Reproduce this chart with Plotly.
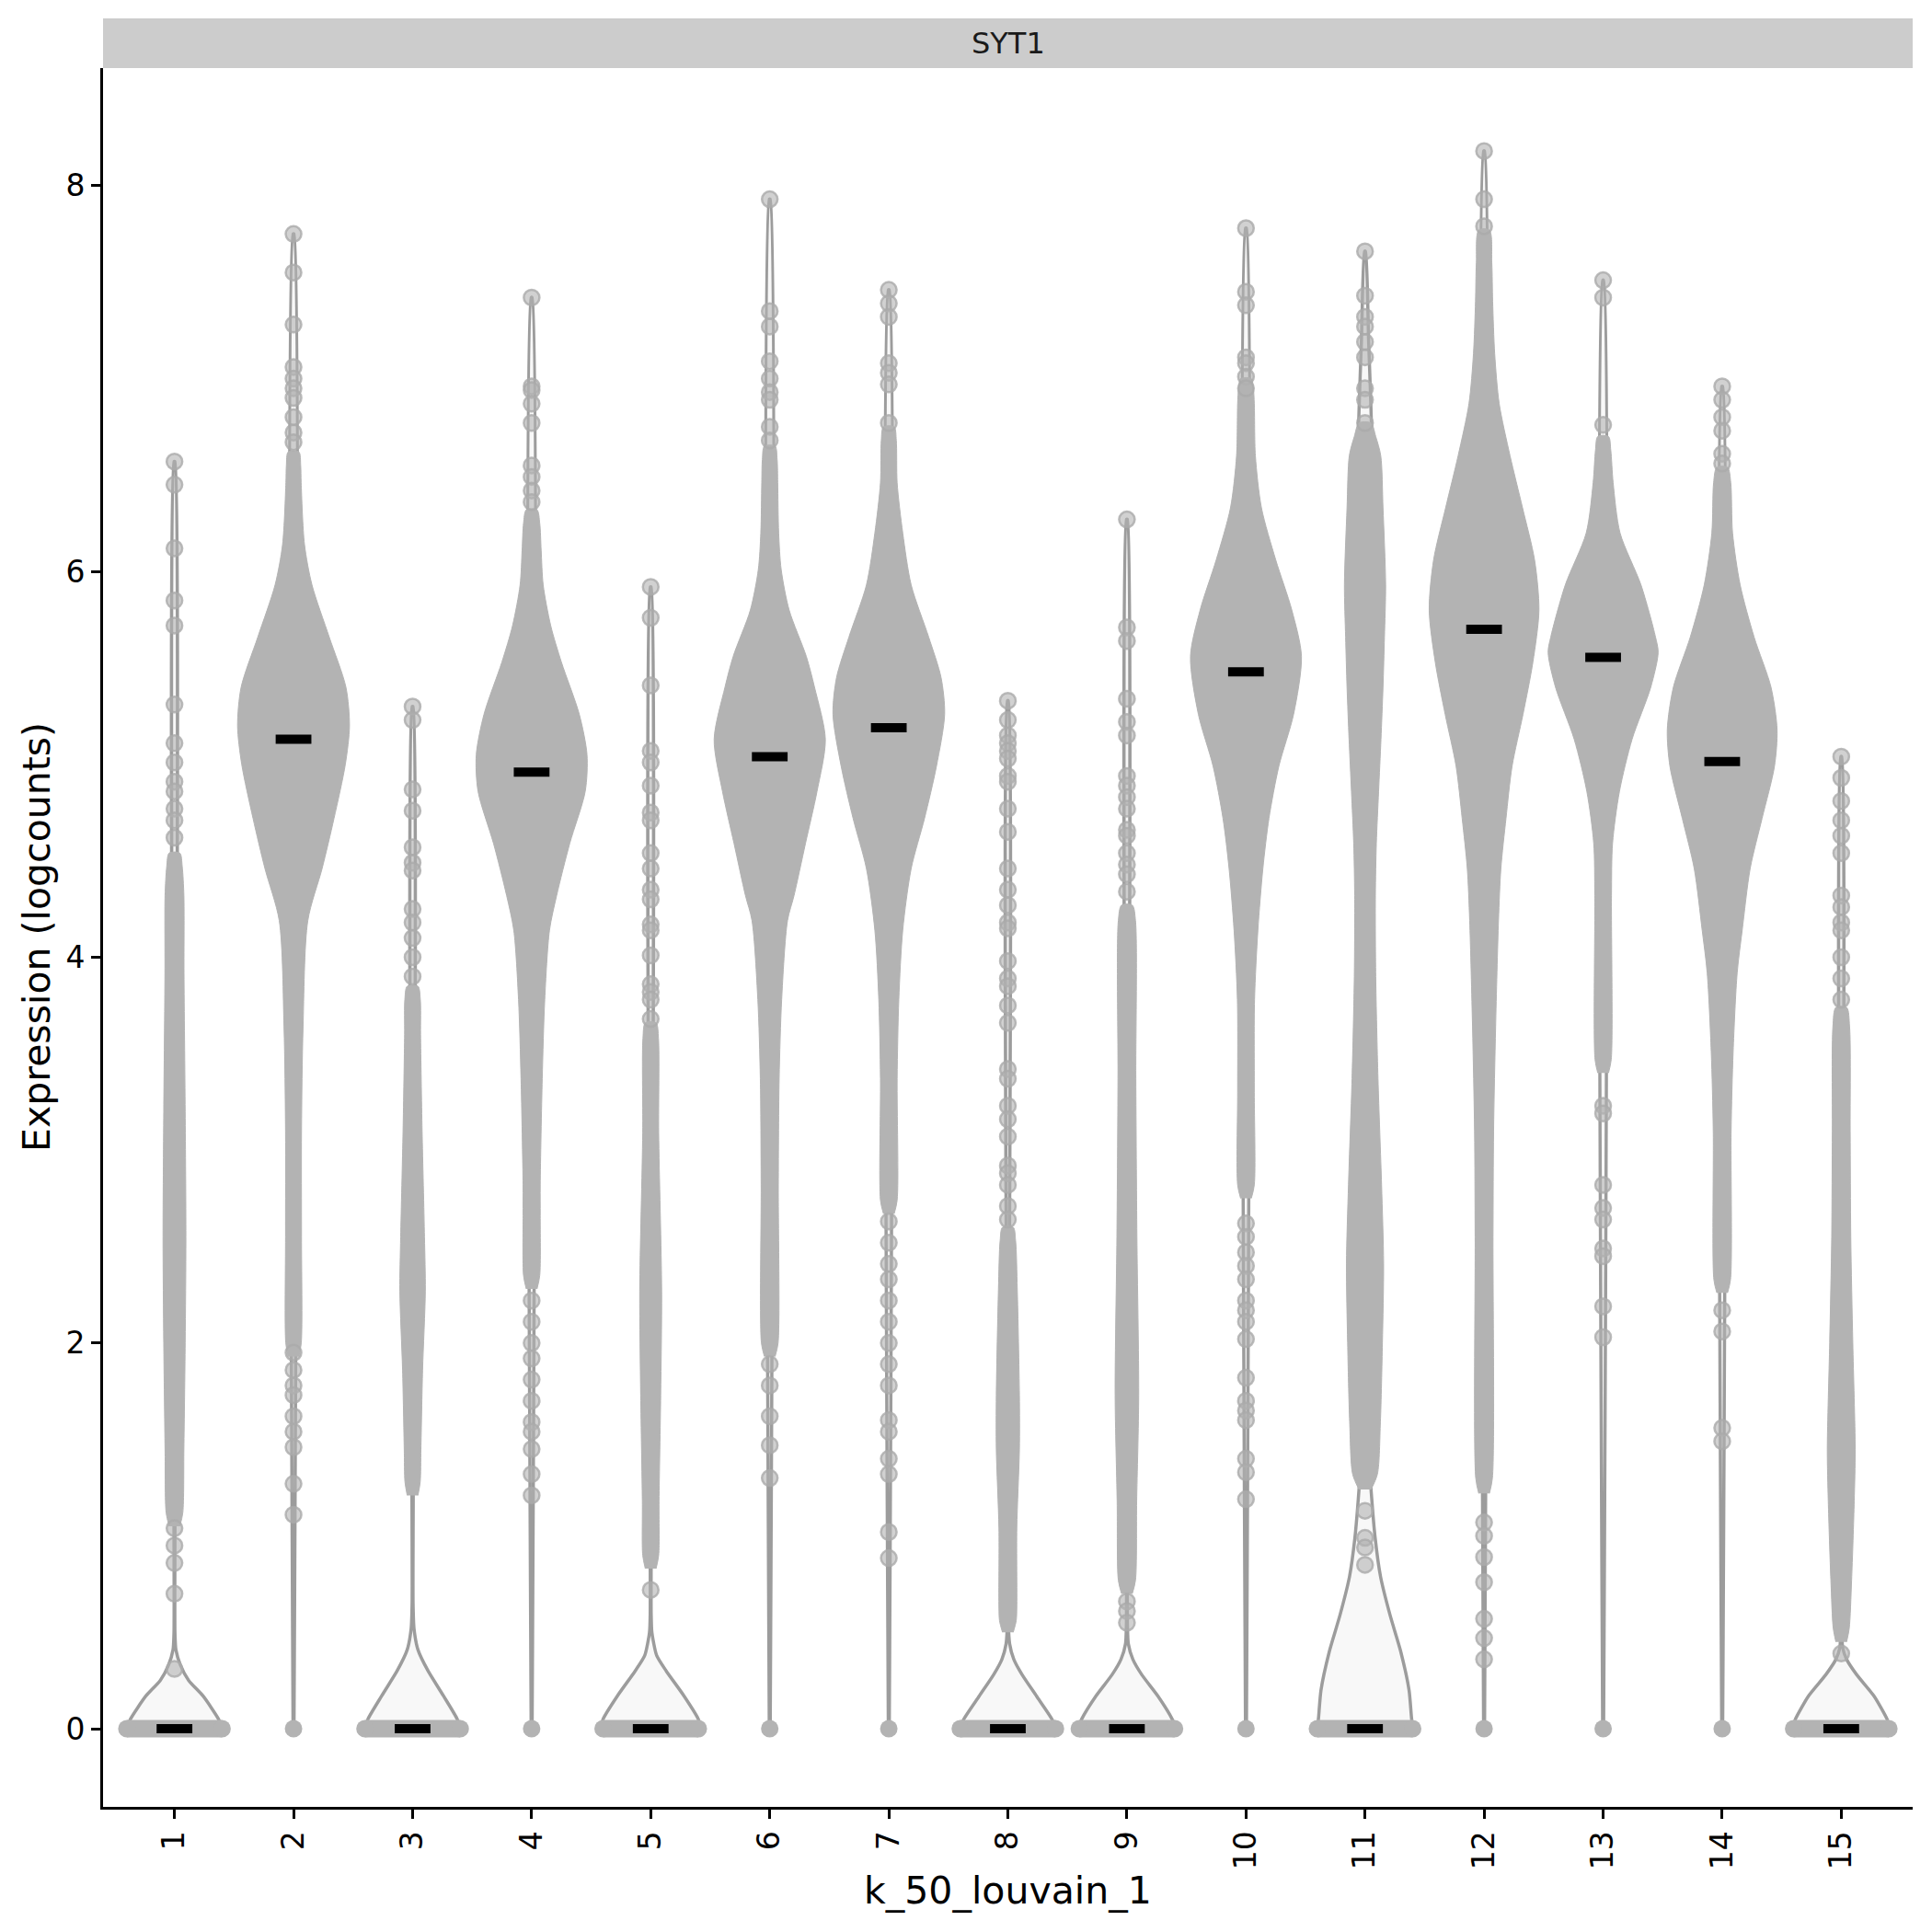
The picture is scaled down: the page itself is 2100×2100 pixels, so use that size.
import plotly.graph_objects as go

# ---------------- data ----------------
clusters = list(range(1, 16))
cluster_labels = [str(c) for c in clusters]

medians = [0, 5.13, 0, 4.96, 0, 5.04, 5.19, 0, 0, 5.48, 0, 5.70, 5.555, 5.015, 0]

# half-width (category units) of the band of zero-valued cells
zero_band_halfwidth = [0.40, 0, 0.40, 0, 0.40, 0, 0, 0.40, 0.40, 0, 0.40, 0, 0, 0, 0.40]

# violin outline profile (expression level -> half width)
violin_levels = [
    [0, 0.05, 0.17, 0.25, 0.33, 0.41, 0.50],
    [0],
    [0, 0.05, 0.17, 0.30, 0.41, 0.52, 0.65],
    [0],
    [0, 0.05, 0.17, 0.30, 0.38, 0.50, 0.60],
    [0],
    [0],
    [0, 0.05, 0.17, 0.28, 0.36, 0.44, 0.55],
    [0, 0.05, 0.17, 0.28, 0.36, 0.44, 0.55],
    [0],
    [0, 0.06, 0.20, 0.40, 0.59, 0.79, 0.99, 1.18, 1.30, 2.0, 3.0, 3.9, 5.0, 6.0, 6.73, 7.2, 7.66],
    [0],
    [0],
    [0],
    [0, 0.05, 0.17, 0.28, 0.36, 0.42, 0.52],
]
violin_halfwidth = [
    [0.40, 0.37, 0.24, 0.12, 0.05, 0.012, 0.004],
    [0.004],
    [0.40, 0.375, 0.26, 0.13, 0.045, 0.012, 0.004],
    [0.004],
    [0.42, 0.40, 0.28, 0.13, 0.05, 0.010, 0.004],
    [0.004],
    [0.004],
    [0.40, 0.37, 0.24, 0.12, 0.05, 0.015, 0.004],
    [0.41, 0.38, 0.26, 0.125, 0.05, 0.012, 0.004],
    [0.004],
    [0.40, 0.39, 0.37, 0.30, 0.21, 0.13, 0.085, 0.058, 0.045, 0.05, 0.05, 0.04, 0.05, 0.06, 0.055, 0.03, 0.004],
    [0.004],
    [0.004],
    [0.004],
    [0.41, 0.385, 0.275, 0.13, 0.045, 0.012, 0.004],
]

# dense quasirandom point cloud profile (expression level -> half width incl. marker)
cloud_levels = [
    [1.05, 1.12, 1.45, 2.0, 2.55, 3.2, 3.92, 4.32, 4.47, 4.54],
    [1.93, 2.0, 2.55, 3.1, 3.64, 4.19, 4.46, 4.72, 5.0, 5.2, 5.4, 5.66, 5.93, 6.14, 6.46, 6.55, 6.62],
    [1.21, 1.28, 1.45, 1.86, 2.27, 2.55, 3.10, 3.6, 3.78, 3.85],
    [2.28, 2.35, 2.66, 2.82, 3.37, 3.78, 4.14, 4.32, 4.59, 4.86, 5.05, 5.26, 5.53, 5.72, 5.93, 6.11, 6.25, 6.32],
    [0.83, 0.90, 1.18, 1.73, 2.27, 3.09, 3.58, 3.66],
    [1.93, 2.0, 2.82, 3.37, 3.78, 4.19, 4.32, 4.59, 4.86, 5.13, 5.40, 5.56, 5.80, 6.01, 6.20, 6.46, 6.58, 6.65],
    [2.67, 2.74, 3.37, 3.78, 4.14, 4.46, 4.72, 4.99, 5.26, 5.45, 5.66, 5.93, 6.20, 6.46, 6.68, 6.75],
    [0.50, 0.56, 0.63, 1.04, 1.45, 1.73, 2.28, 2.53, 2.60],
    [0.70, 0.77, 1.18, 1.73, 2.55, 3.37, 4.19, 4.27],
    [2.75, 2.82, 3.3, 3.78, 4.14, 4.46, 4.72, 4.99, 5.26, 5.56, 5.80, 6.06, 6.33, 6.60, 6.87, 6.95, 7.0],
    [1.24, 1.32, 1.59, 2.0, 2.41, 2.82, 3.37, 3.9, 4.32, 4.59, 4.86, 5.13, 5.40, 5.66, 5.93, 6.33, 6.6, 6.70, 6.77],
    [1.22, 1.30, 2.55, 3.10, 3.64, 4.19, 4.46, 4.72, 4.99, 5.26, 5.53, 5.80, 6.06, 6.33, 6.60, 6.87, 7.13,
     7.40, 7.60, 7.77],
    [3.40, 3.47, 4.32, 4.59, 4.86, 5.13, 5.40, 5.58, 5.66, 5.93, 6.20, 6.46, 6.63, 6.70],
    [2.26, 2.33, 3.10, 3.51, 3.92, 4.14, 4.46, 4.72, 4.99, 5.18, 5.40, 5.66, 5.93, 6.20, 6.46, 6.54],
    [0.45, 0.52, 0.77, 1.18, 1.45, 2.0, 2.55, 3.10, 3.64, 3.74],
]
cloud_halfwidth = [
    [0.045, 0.07, 0.079, 0.09, 0.096, 0.09, 0.08, 0.079, 0.065, 0.045],
    [0.045, 0.065, 0.067, 0.067, 0.08, 0.12, 0.24, 0.34, 0.435, 0.47, 0.44, 0.30, 0.155, 0.092, 0.064, 0.06, 0.045],
    [0.045, 0.064, 0.07, 0.084, 0.107, 0.10, 0.08, 0.067, 0.065, 0.045],
    [0.045, 0.068, 0.072, 0.072, 0.089, 0.11, 0.15, 0.21, 0.32, 0.45, 0.465, 0.40, 0.25, 0.16, 0.097, 0.08, 0.068, 0.045],
    [0.045, 0.067, 0.07, 0.084, 0.092, 0.067, 0.065, 0.045],
    [0.045, 0.07, 0.072, 0.079, 0.10, 0.149, 0.204, 0.30, 0.397, 0.467, 0.376, 0.307, 0.163, 0.096, 0.075, 0.067, 0.062, 0.045],
    [0.045, 0.07, 0.07, 0.084, 0.117, 0.188, 0.30, 0.40, 0.469, 0.439, 0.335, 0.188, 0.117, 0.07, 0.063, 0.045],
    [0.045, 0.07, 0.075, 0.075, 0.097, 0.097, 0.079, 0.065, 0.045],
    [0.045, 0.072, 0.082, 0.099, 0.084, 0.075, 0.072, 0.045],
    [0.045, 0.07, 0.07, 0.072, 0.10, 0.142, 0.193, 0.276, 0.40, 0.466, 0.385, 0.25, 0.13, 0.079, 0.07, 0.062, 0.045],
    [0.05, 0.104, 0.129, 0.146, 0.156, 0.139, 0.109, 0.09, 0.087, 0.095, 0.114, 0.134, 0.151, 0.163, 0.173, 0.151, 0.132, 0.09, 0.05],
    [0.045, 0.07, 0.075, 0.08, 0.097, 0.121, 0.141, 0.184, 0.235, 0.327, 0.41, 0.461, 0.424, 0.323, 0.218, 0.127, 0.089,
     0.072, 0.065, 0.045],
    [0.045, 0.068, 0.07, 0.079, 0.137, 0.243, 0.40, 0.462, 0.44, 0.318, 0.142, 0.084, 0.064, 0.045],
    [0.045, 0.07, 0.075, 0.092, 0.126, 0.168, 0.235, 0.335, 0.439, 0.461, 0.41, 0.268, 0.151, 0.087, 0.072, 0.045],
    [0.045, 0.067, 0.087, 0.109, 0.117, 0.097, 0.08, 0.075, 0.07, 0.045],
]

# isolated cells outside the dense cloud (non-zero values)
sparse_points = [
    [6.57, 6.45, 6.12, 5.85, 5.72, 5.31, 5.11, 5.01, 4.91, 4.86, 4.77, 4.71, 4.62, 1.04, 0.95, 0.86, 0.70, 0.31],
    [7.75, 7.55, 7.28, 7.06, 7.0, 6.95, 6.90, 6.80, 6.72, 6.67, 1.95, 1.86, 1.78, 1.73, 1.62, 1.54, 1.46, 1.27, 1.11],
    [5.30, 5.23, 4.87, 4.76, 4.57, 4.49, 4.45, 4.25, 4.18, 4.10, 4.0, 3.9],
    [7.42, 6.96, 6.94, 6.87, 6.77, 6.55, 6.49, 6.42, 6.36, 2.22, 2.11, 2.0, 1.92, 1.81, 1.70, 1.59, 1.54, 1.45, 1.32, 1.21],
    [5.92, 5.76, 5.41, 5.07, 5.01, 4.89, 4.75, 4.71, 4.54, 4.46, 4.35, 4.30, 4.17, 4.14, 4.01, 3.86, 3.82, 3.78, 3.68, 0.72],
    [7.93, 7.35, 7.27, 7.09, 7.00, 6.93, 6.89, 6.75, 6.68, 1.89, 1.78, 1.62, 1.47, 1.30],
    [7.46, 7.39, 7.32, 7.08, 7.03, 6.97, 6.77, 2.63, 2.52, 2.41, 2.33, 2.22, 2.11, 2.0, 1.89, 1.78, 1.60, 1.54, 1.40, 1.32, 1.02, 0.885],
    [5.33, 5.23, 5.15, 5.11, 5.07, 5.03, 4.94, 4.91, 4.77, 4.65, 4.46, 4.35, 4.27, 4.18, 4.15, 3.98, 3.89, 3.85,
     3.75, 3.66, 3.42, 3.37, 3.23, 3.16, 3.07, 2.92, 2.88, 2.82, 2.71, 2.64],
    [6.27, 5.71, 5.64, 5.34, 5.22, 5.15, 4.94, 4.89, 4.83, 4.77, 4.66, 4.63, 4.54, 4.48, 4.43, 4.34, 0.66, 0.61, 0.55],
    [7.78, 7.45, 7.38, 7.11, 7.08, 7.01, 6.95, 2.62, 2.55, 2.47, 2.40, 2.33, 2.22, 2.17, 2.11, 2.02, 1.82, 1.70,
     1.65, 1.60, 1.40, 1.33, 1.19],
    [7.66, 7.43, 7.32, 7.27, 7.19, 7.11, 6.95, 6.89, 6.77, 1.13, 0.99, 0.94, 0.85],
    [8.18, 7.93, 7.79, 1.07, 1.0, 0.89, 0.76, 0.57, 0.47, 0.36],
    [7.51, 7.42, 6.76, 3.23, 3.19, 2.82, 2.70, 2.64, 2.49, 2.45, 2.19, 2.03],
    [6.96, 6.89, 6.80, 6.73, 6.61, 6.56, 2.17, 2.06, 1.56, 1.49],
    [5.04, 4.93, 4.81, 4.71, 4.63, 4.54, 4.32, 4.26, 4.18, 4.14, 4.0, 3.89, 3.78, 0.39],
]

gene = "SYT1"
x_title = "k_50_louvain_1"
y_title = "Expression (logcounts)"
y_ticks = [0, 2, 4, 6, 8]

# ---------------- styling ----------------
W = H = 2100
ML, MR, MT, MB = 112, 21, 74, 136
PLOT_H = H - MT - MB
FONT = "DejaVu Sans"
POINT_GREY = "#B3B3B3"
OUTLINE_GREY = "#9C9C9C"

fig = go.Figure()

# violins (outline + near-white fill)
for i, k in enumerate(clusters):
    lv = list(violin_levels[i])
    hw = list(violin_halfwidth[i])
    top = max(sparse_points[i] + cloud_levels[i] + lv)
    if top > lv[-1]:
        lv.append(top)
        hw.append(0.004)
    xs = [k - w for w in hw] + [k + w for w in reversed(hw)]
    ys = lv + list(reversed(lv))
    fig.add_trace(go.Scatter(
        x=xs, y=ys, mode="lines", fill="toself", fillcolor="#F8F8F8",
        line=dict(color=OUTLINE_GREY, width=3.5, shape="spline", smoothing=0.6),
        hoverinfo="skip", showlegend=False))

# dense point clouds
for i, k in enumerate(clusters):
    lv = cloud_levels[i]
    hw = cloud_halfwidth[i]
    xs = [k - w for w in hw] + [k + w for w in reversed(hw)]
    ys = lv + list(reversed(lv))
    fig.add_trace(go.Scatter(
        x=xs, y=ys, mode="lines", fill="toself", fillcolor=POINT_GREY,
        line=dict(color=POINT_GREY, width=1, shape="spline", smoothing=0.8),
        hoverinfo="skip", showlegend=False))

# isolated cells
px, py = [], []
for i, k in enumerate(clusters):
    for v in sparse_points[i]:
        px.append(k)
        py.append(v)
fig.add_trace(go.Scatter(
    x=px, y=py, mode="markers",
    marker=dict(size=17, color="rgba(179,179,179,0.6)",
                line=dict(color="rgba(170,170,170,0.8)", width=2.5)),
    hoverinfo="skip", showlegend=False))

# zero-valued cells: bands for zero-heavy clusters, single point otherwise
for i, k in enumerate(clusters):
    hwz = zero_band_halfwidth[i]
    if hwz > 0:
        fig.add_trace(go.Scatter(
            x=[k - hwz, k + hwz], y=[0, 0], mode="lines+markers",
            line=dict(color=POINT_GREY, width=19),
            marker=dict(size=19, color=POINT_GREY, line=dict(width=0)),
            hoverinfo="skip", showlegend=False))
    else:
        fig.add_trace(go.Scatter(
            x=[k], y=[0], mode="markers",
            marker=dict(size=19, color=POINT_GREY, line=dict(width=0)),
            hoverinfo="skip", showlegend=False))

# medians
mx, my = [], []
for k, m in zip(clusters, medians):
    mx += [k - 0.15, k + 0.15, None]
    my += [m, m, None]
fig.add_trace(go.Scatter(x=mx, y=my, mode="lines",
                         line=dict(color="black", width=10),
                         hoverinfo="skip", showlegend=False))

fig.update_layout(
    width=W, height=H,
    margin=dict(l=ML, r=MR, t=MT, b=MB, pad=0),
    paper_bgcolor="white", plot_bgcolor="white",
    font=dict(family=FONT, color="black"),
    showlegend=False,
    xaxis=dict(range=[0.4, 15.6], tickmode="array", tickvals=clusters, ticktext=cluster_labels,
               tickangle=-90, showgrid=False, zeroline=False, showline=True,
               linecolor="black", linewidth=3, ticks="outside", ticklen=10, tickwidth=3,
               tickcolor="black", tickfont=dict(size=33, color="black", family=FONT)),
    yaxis=dict(range=[-0.405, 8.61], tickmode="array", tickvals=y_ticks,
               ticktext=[str(t) for t in y_ticks],
               showgrid=False, zeroline=False, showline=True,
               linecolor="black", linewidth=3, ticks="outside", ticklen=10, tickwidth=3,
               tickcolor="black", tickfont=dict(size=33, color="black", family=FONT)),
)

# facet strip
strip_h = 54 / PLOT_H
fig.add_shape(type="rect", xref="paper", yref="paper", x0=0, x1=1, y0=1.0, y1=1.0 + strip_h,
              fillcolor="#CCCCCC", line=dict(width=0), layer="below")
fig.add_annotation(text=gene, xref="paper", yref="paper", x=0.5, y=1.0 + strip_h / 2,
                   showarrow=False, font=dict(size=32, color="#1A1A1A", family=FONT),
                   xanchor="center", yanchor="middle")

# axis titles
plot_w = W - ML - MR
fig.add_annotation(text=x_title, xref="paper", yref="paper", x=0.5, y=-(2055 - (H - MB)) / PLOT_H,
                   showarrow=False, font=dict(size=41, color="black", family=FONT),
                   xanchor="center", yanchor="middle")
fig.add_annotation(text=y_title, xref="paper", yref="paper", x=-(ML - 40) / plot_w, y=0.5,
                   showarrow=False, textangle=-90, font=dict(size=41, color="black", family=FONT),
                   xanchor="center", yanchor="middle")

fig.write_html("out.html")
